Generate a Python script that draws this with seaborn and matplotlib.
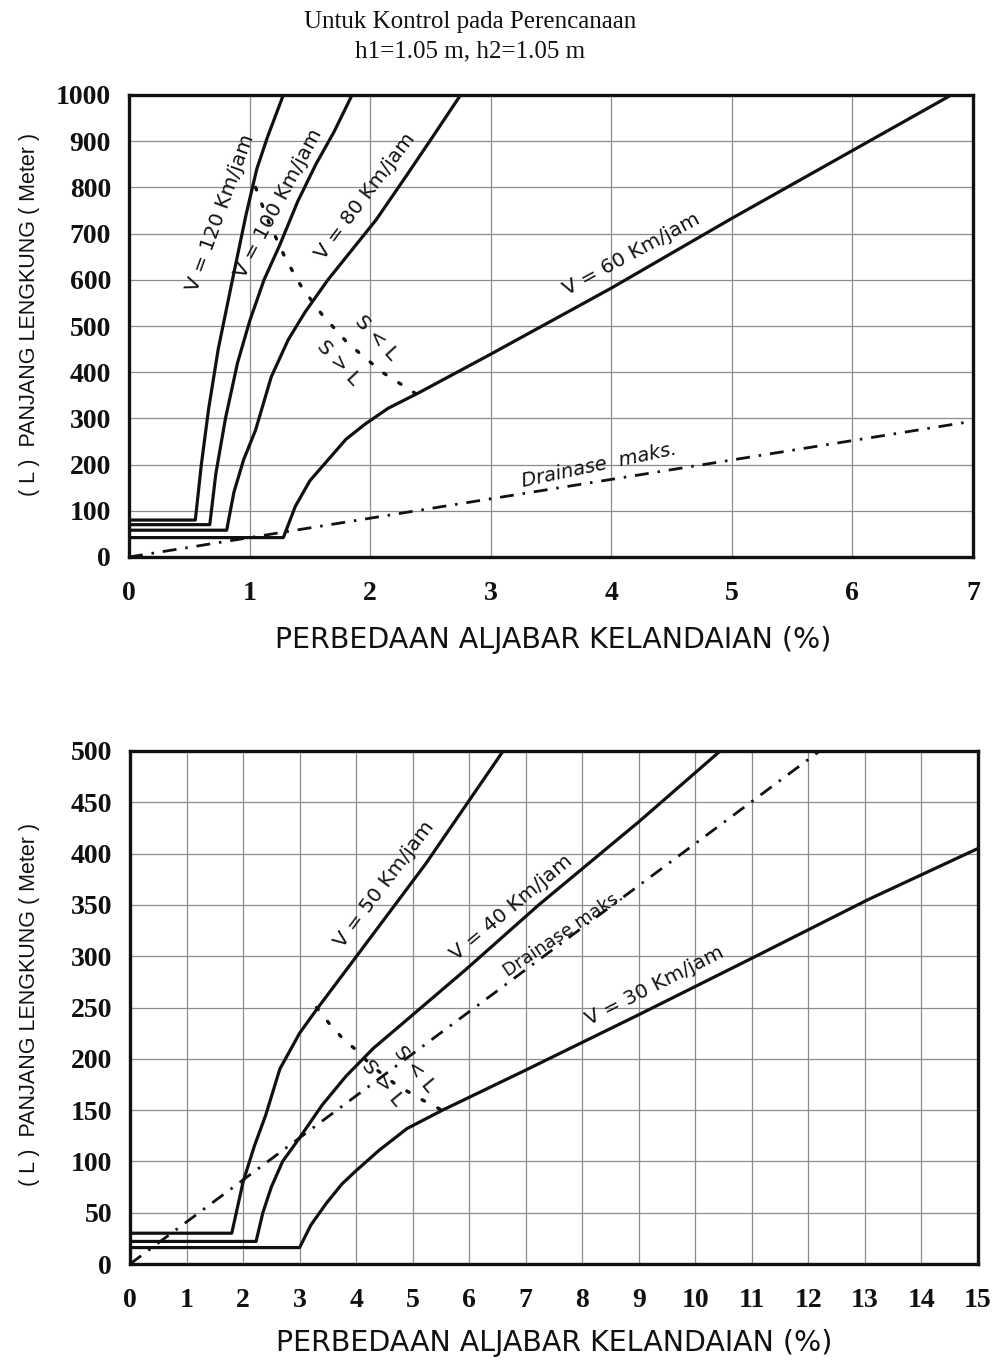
import matplotlib
matplotlib.use("Agg")
import matplotlib.pyplot as plt
from matplotlib.ticker import MultipleLocator
import seaborn as sns

# ---------------- data: upper chart (V >= 60 km/jam) ----------------
v120_x = [0, 0.55, 0.60, 0.66, 0.74, 0.85, 0.97, 1.06, 1.15, 1.28]
v120_y = [80, 80, 200, 320, 450, 590, 740, 840, 910, 1000]

v100_x = [0, 0.67, 0.72, 0.80, 0.90, 1.00, 1.12, 1.25, 1.40, 1.55, 1.70, 1.85]
v100_y = [70, 70, 180, 300, 420, 510, 600, 675, 770, 850, 920, 1000]

v80_x = [0, 0.81, 0.87, 0.95, 1.05, 1.18, 1.32, 1.46, 1.65, 1.85, 2.05, 2.30, 2.52, 2.75]
v80_y = [58, 58, 140, 210, 275, 390, 470, 530, 600, 665, 730, 825, 910, 1000]

v60_x = [0, 1.28, 1.38, 1.50, 1.65, 1.80, 1.96, 2.15, 2.40, 3.0, 4.0, 5.0, 6.82]
v60_y = [42, 42, 110, 165, 210, 255, 288, 322, 355, 439, 582, 733, 1000]

drain_top_x = [0, 7]
drain_top_y = [0, 294]

sl_top_x = [1.05, 1.15, 1.30, 1.43, 1.60, 1.81, 2.10, 2.40]
sl_top_y = [800, 730, 645, 585, 525, 464, 400, 350]

# ---------------- data: lower chart (V <= 50 km/jam) ----------------
v50_x = [0, 1.8, 1.9, 2.0, 2.2, 2.4, 2.65, 3.0, 3.3, 3.94, 5.23, 6.6]
v50_y = [30, 30, 55, 80, 115, 145, 190, 225, 248, 295, 390, 500]

v40_x = [0, 2.23, 2.35, 2.5, 2.7, 3.0, 3.4, 3.82, 4.3, 4.94, 5.94, 7.23, 9.0, 10.44]
v40_y = [22, 22, 50, 75, 100, 123, 155, 183, 210, 240, 287, 350, 431, 500]

v30_x = [0, 3.0, 3.2, 3.47, 3.75, 4.0, 4.41, 4.9, 5.53, 7.0, 9.0, 11.0, 13.05, 15.0]
v30_y = [16, 16, 38, 59, 78, 91, 111, 132, 150, 189, 243, 298, 355, 405]

drain_bot_x = [0, 12.2]
drain_bot_y = [0, 500]

sl_bot_x = [3.3, 3.53, 3.76, 3.97, 4.3, 4.7, 5.1, 5.55]
sl_bot_y = [250, 234, 220, 210, 192, 175, 162, 149]

title_lines = ["Untuk Kontrol pada Perencanaan", "h1=1.05 m, h2=1.05 m"]
x_label = "PERBEDAAN ALJABAR KELANDAIAN (%)"
y_label = "( L )  PANJANG LENGKUNG ( Meter )"

# ---------------- style ----------------
sns.set_style("white")
plt.rcParams["font.family"] = ["DejaVu Sans"]
SERIF = ["Liberation Serif", "DejaVu Serif"]
NARROW = ["Liberation Sans", "DejaVu Sans"]
INK = "#111111"
LW = 2.3

fig = plt.figure(figsize=(10.07, 13.6), dpi=100)
W, H = 1007, 1360
ax1 = fig.add_axes([129 / W, 1 - 557 / H, 844 / W, 462 / H])
ax2 = fig.add_axes([130 / W, 1 - 1264 / H, 848 / W, 513 / H])

fig.text(470 / W, 1 - 22 / H, title_lines[0], ha="center", va="center",
         family=SERIF, fontsize=18, color=INK)
fig.text(470 / W, 1 - 51 / H, title_lines[1], ha="center", va="center",
         family=SERIF, fontsize=18, color=INK)


def curve(ax, xs, ys, style="-", lw=LW):
    sns.lineplot(x=xs, y=ys, ax=ax, sort=False, estimator=None,
                 color=INK, lw=lw, legend=False)
    ln = ax.lines[-1]
    ln.set_solid_capstyle("butt")
    if style == "drain":
        ln.set_linestyle((0, (5, 3.2, 0.9, 3.2)))
    elif style == "dot":
        ln.set_linestyle((0, (0.8, 4.5)))
        ln.set_dash_capstyle("round")
    return ln


def frame(ax, xmax, ymax, xminor, yminor, ystep):
    ax.set_xlim(0, xmax)
    ax.set_ylim(0, ymax)
    ax.set_xticks(range(0, xmax + 1))
    ax.set_yticks(range(0, ymax + 1, ystep))
    ax.xaxis.set_minor_locator(MultipleLocator(xminor))
    ax.yaxis.set_minor_locator(MultipleLocator(yminor))
    ax.grid(True, which="major", color="#8c8c8c", lw=0.9)
    ax.set_axisbelow(True)
    for s in ax.spines.values():
        s.set_visible(True)
        s.set_linewidth(2.4)
        s.set_color(INK)
    ax.tick_params(which="major", direction="out", length=8, width=2.2,
                   color=INK, labelsize=20, labelcolor=INK)
    ax.tick_params(which="minor", direction="out", length=6, width=2.0,
                   color=INK)
    ax.tick_params(axis="x", which="major", pad=9)
    ax.tick_params(axis="y", which="major", pad=5)
    for lab in ax.get_xticklabels() + ax.get_yticklabels():
        lab.set_family(SERIF)
        lab.set_fontweight("bold")
    ax.set_xlabel(x_label, fontsize=20.5, color=INK)
    ax.set_ylabel(y_label, fontsize=15.5, color=INK, family=NARROW)


# ---------------- upper chart ----------------
for xs, ys in [(v120_x, v120_y), (v100_x, v100_y), (v80_x, v80_y), (v60_x, v60_y)]:
    curve(ax1, xs, ys)
curve(ax1, drain_top_x, drain_top_y, "drain", lw=2.0)
curve(ax1, sl_top_x, sl_top_y, "dot", lw=2.4)
frame(ax1, 7, 1000, 0.25, 50, 100)
ax1.xaxis.set_label_coords(0.503, -0.150)
ax1.yaxis.set_label_coords(-0.105, 0.525)

lab_kw = dict(ha="center", va="center", rotation_mode="anchor",
              fontsize=14.5, color=INK)
ax1.text(0.76, 745, "V = 120 Km/jam", rotation=70, **lab_kw)
ax1.text(1.24, 766, "V = 100 Km/jam", rotation=62, **lab_kw)
ax1.text(1.96, 781, "V = 80 Km/jam", rotation=53, **lab_kw)
ax1.text(4.17, 655, "V = 60 Km/jam", rotation=28.5, **lab_kw)
ax1.text(3.90, 198, "Drainase  maks.", rotation=12, style="italic",
         **{**lab_kw, "fontsize": 14})
ax1.text(2.05, 474, "S < L", rotation=-47, **lab_kw)
ax1.text(1.74, 420, "S > L", rotation=-47, **lab_kw)

# ---------------- lower chart ----------------
for xs, ys in [(v50_x, v50_y), (v40_x, v40_y), (v30_x, v30_y)]:
    curve(ax2, xs, ys)
curve(ax2, drain_bot_x, drain_bot_y, "drain", lw=2.0)
curve(ax2, sl_bot_x, sl_bot_y, "dot", lw=2.4)
frame(ax2, 15, 500, 0.5, 25, 50)
ax2.xaxis.set_label_coords(0.50, -0.126)
ax2.yaxis.set_label_coords(-0.106, 0.506)

ax2.text(4.50, 370, "V = 50 Km/jam", rotation=53, **lab_kw)
ax2.text(6.75, 347, "V = 40 Km/jam", rotation=40, **lab_kw)
ax2.text(7.67, 322, "Drainase maks.", rotation=34, **{**lab_kw, "fontsize": 13})
ax2.text(9.28, 271, "V = 30 Km/jam", rotation=27, **lab_kw)
ax2.text(5.03, 190, "S < L", rotation=-50, **lab_kw)
ax2.text(4.46, 176, "S > L", rotation=-50, **lab_kw)

fig.savefig("out.png", dpi=100, facecolor="white")
